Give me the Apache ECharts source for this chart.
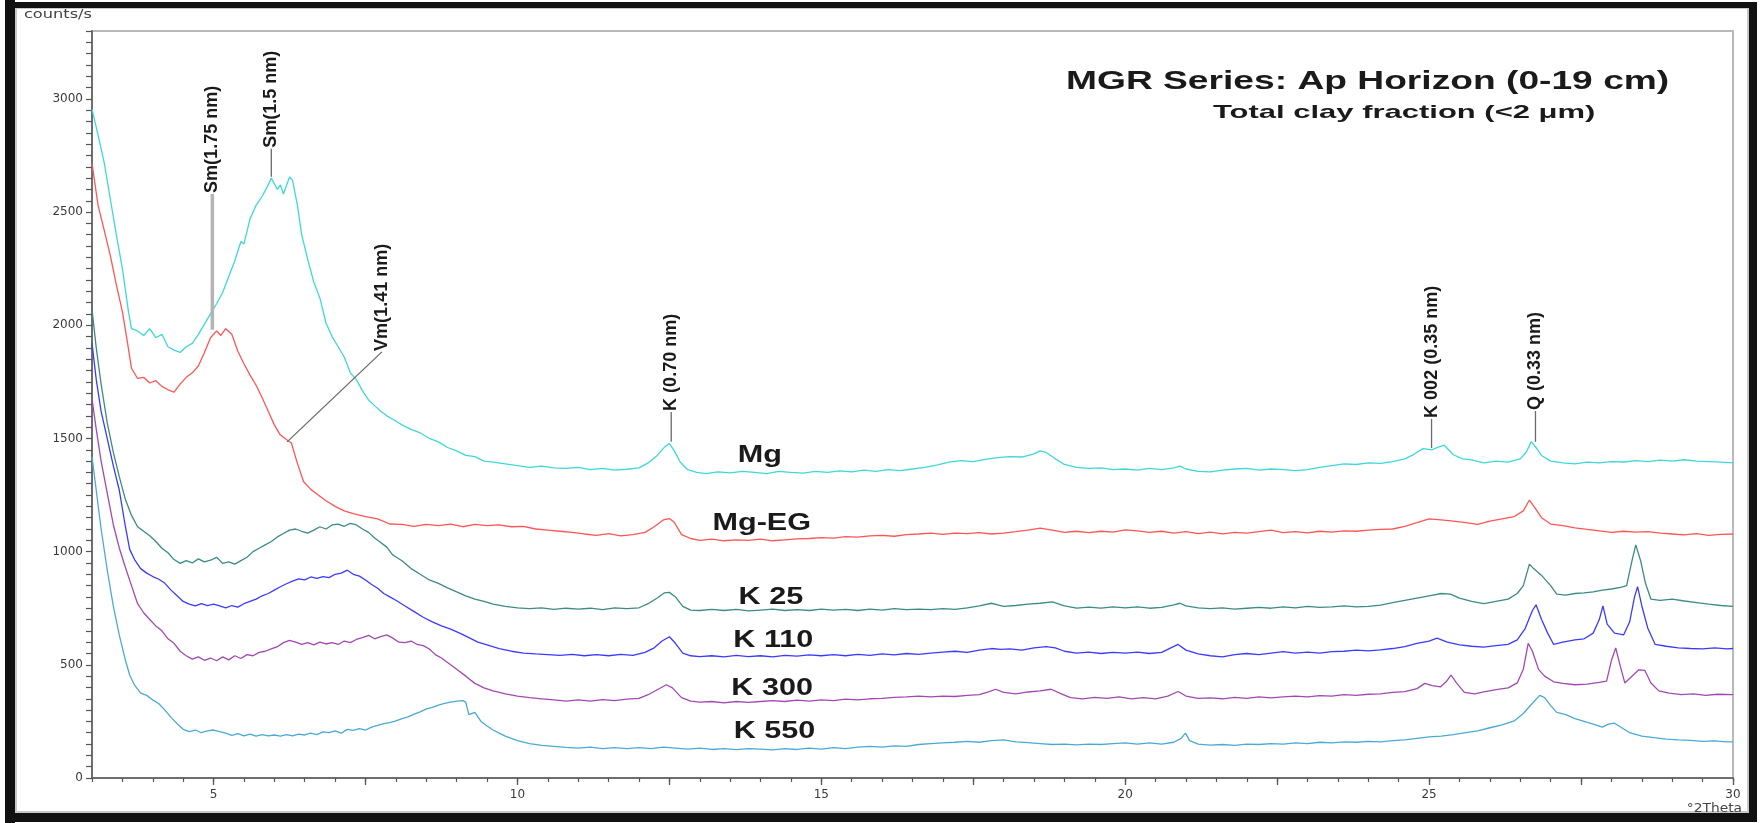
<!DOCTYPE html>
<html><head><meta charset="utf-8">
<script src="https://cdn.jsdelivr.net/npm/echarts@6/dist/echarts.min.js"></script>
<style>html,body{margin:0;padding:0;background:#fff}#c{width:1763px;height:823px}</style>
</head><body><div id="c"></div>
<script>
// ---- data (°2Theta, counts/s) ----
const seriesNames = ['Mg', 'Mg-EG', 'K 25', 'K 110', 'K 300', 'K 550'];
const seriesColors = ['#3ed8d8', '#ff5555', '#3a8c84', '#3b3bff', '#a348b3', '#4aaad6'];

const mg = [[3.0,2955],[3.1,2840],[3.2,2720],[3.3,2560],[3.4,2400],[3.5,2250],[3.6,2060],[3.65,1985],[3.75,1975],[3.85,1955],[3.95,1985],[4.05,1945],[4.15,1960],[4.25,1905],[4.35,1890],[4.45,1880],[4.55,1905],[4.65,1920],[4.75,1960],[4.85,2005],[4.95,2050],[5.05,2095],[5.15,2145],[5.25,2215],[5.35,2285],[5.45,2370],[5.5,2360],[5.6,2470],[5.7,2530],[5.8,2570],[5.9,2620],[5.95,2650],[6.05,2600],[6.1,2620],[6.15,2580],[6.25,2655],[6.3,2640],[6.38,2530],[6.45,2400],[6.55,2290],[6.65,2190],[6.75,2120],[6.85,2010],[6.95,1950],[7.05,1905],[7.15,1860],[7.25,1790],[7.35,1760],[7.45,1710],[7.55,1670],[7.65,1645],[7.75,1620],[7.85,1600],[7.95,1585],[8.1,1560],[8.25,1540],[8.4,1525],[8.55,1500],[8.7,1485],[8.85,1460],[9.0,1445],[9.15,1425],[9.3,1420],[9.45,1400],[9.6,1395],[9.8,1388],[10.0,1380],[10.2,1372],[10.4,1378],[10.6,1370],[10.8,1368],[11.0,1372],[11.2,1362],[11.4,1368],[11.6,1360],[11.8,1364],[12.0,1370],[12.15,1392],[12.3,1425],[12.42,1462],[12.5,1478],[12.58,1445],[12.68,1395],[12.8,1362],[12.95,1350],[13.1,1345],[13.3,1352],[13.5,1348],[13.7,1355],[13.9,1350],[14.1,1345],[14.3,1355],[14.5,1350],[14.7,1347],[14.9,1355],[15.1,1350],[15.3,1357],[15.5,1352],[15.7,1360],[15.9,1355],[16.1,1362],[16.3,1358],[16.5,1365],[16.7,1372],[16.9,1382],[17.1,1395],[17.3,1402],[17.5,1398],[17.7,1408],[17.9,1415],[18.1,1420],[18.3,1418],[18.5,1432],[18.6,1445],[18.7,1438],[18.85,1410],[19.0,1385],[19.2,1372],[19.4,1368],[19.6,1370],[19.8,1362],[20.0,1365],[20.2,1360],[20.4,1368],[20.6,1362],[20.8,1370],[20.9,1378],[21.0,1365],[21.2,1355],[21.4,1352],[21.6,1360],[21.8,1365],[22.0,1368],[22.2,1360],[22.4,1365],[22.6,1362],[22.8,1358],[23.0,1362],[23.2,1372],[23.4,1380],[23.6,1388],[23.8,1385],[24.0,1392],[24.2,1390],[24.4,1398],[24.6,1410],[24.75,1430],[24.9,1455],[25.05,1450],[25.15,1462],[25.25,1470],[25.4,1428],[25.55,1410],[25.7,1405],[25.9,1392],[26.1,1400],[26.3,1395],[26.5,1410],[26.6,1440],[26.68,1486],[26.76,1460],[26.85,1425],[27.0,1400],[27.2,1392],[27.4,1388],[27.6,1395],[27.8,1392],[28.0,1398],[28.2,1396],[28.4,1402],[28.6,1398],[28.8,1404],[29.0,1400],[29.2,1406],[29.4,1400],[29.6,1398],[29.8,1395],[30.0,1392]];

const mgEg = [[3.0,2715],[3.1,2530],[3.2,2420],[3.3,2310],[3.4,2180],[3.5,2060],[3.58,1930],[3.65,1810],[3.75,1765],[3.85,1770],[3.95,1745],[4.05,1755],[4.15,1730],[4.25,1715],[4.35,1705],[4.45,1740],[4.55,1770],[4.65,1790],[4.75,1820],[4.85,1880],[4.95,1945],[5.05,1975],[5.12,1955],[5.2,1985],[5.3,1960],[5.4,1885],[5.5,1830],[5.6,1780],[5.7,1735],[5.8,1680],[5.9,1620],[6.0,1560],[6.1,1515],[6.2,1495],[6.28,1480],[6.38,1390],[6.48,1310],[6.6,1275],[6.7,1255],[6.85,1225],[7.0,1200],[7.15,1180],[7.3,1168],[7.5,1155],[7.7,1145],[7.9,1122],[8.1,1120],[8.3,1112],[8.5,1120],[8.7,1115],[8.9,1122],[9.1,1110],[9.3,1120],[9.5,1115],[9.7,1118],[9.9,1110],[10.1,1112],[10.3,1100],[10.5,1095],[10.7,1090],[10.9,1085],[11.1,1078],[11.3,1072],[11.5,1080],[11.7,1070],[11.9,1075],[12.1,1085],[12.25,1110],[12.4,1140],[12.5,1146],[12.58,1130],[12.7,1075],[12.85,1058],[13.0,1050],[13.2,1055],[13.4,1048],[13.6,1052],[13.8,1050],[14.0,1055],[14.2,1048],[14.4,1052],[14.6,1056],[14.8,1058],[15.0,1062],[15.2,1060],[15.4,1066],[15.6,1064],[15.8,1070],[16.0,1072],[16.2,1068],[16.4,1075],[16.6,1078],[16.8,1082],[17.0,1076],[17.2,1082],[17.4,1080],[17.6,1084],[17.8,1078],[18.0,1082],[18.2,1088],[18.4,1095],[18.6,1104],[18.8,1095],[19.0,1085],[19.2,1090],[19.4,1084],[19.6,1090],[19.8,1086],[20.0,1096],[20.2,1092],[20.4,1085],[20.6,1090],[20.8,1082],[21.0,1088],[21.2,1080],[21.4,1086],[21.6,1078],[21.8,1085],[22.0,1082],[22.2,1088],[22.4,1095],[22.6,1084],[22.8,1088],[23.0,1083],[23.2,1090],[23.4,1086],[23.6,1092],[23.8,1090],[24.0,1095],[24.2,1098],[24.4,1100],[24.6,1112],[24.8,1128],[25.0,1145],[25.2,1140],[25.4,1135],[25.6,1128],[25.8,1120],[26.0,1135],[26.2,1145],[26.4,1155],[26.55,1180],[26.65,1228],[26.75,1190],[26.85,1150],[27.0,1122],[27.2,1115],[27.4,1105],[27.6,1098],[27.8,1092],[28.0,1085],[28.2,1090],[28.4,1086],[28.6,1088],[28.8,1082],[29.0,1078],[29.2,1074],[29.4,1080],[29.6,1072],[29.8,1076],[30.0,1078]];

const k25 = [[3.0,2070],[3.07,1900],[3.15,1740],[3.25,1570],[3.35,1440],[3.45,1330],[3.55,1230],[3.65,1160],[3.75,1110],[3.85,1090],[3.95,1070],[4.05,1045],[4.15,1015],[4.25,995],[4.35,965],[4.45,948],[4.55,960],[4.65,950],[4.75,968],[4.85,955],[4.95,962],[5.05,975],[5.15,948],[5.25,955],[5.35,945],[5.45,960],[5.55,975],[5.65,1000],[5.75,1015],[5.85,1030],[5.95,1045],[6.05,1065],[6.15,1080],[6.25,1095],[6.35,1100],[6.45,1090],[6.55,1082],[6.65,1095],[6.75,1110],[6.85,1100],[6.95,1118],[7.05,1122],[7.15,1112],[7.25,1125],[7.35,1118],[7.45,1100],[7.55,1085],[7.65,1060],[7.75,1040],[7.85,1020],[7.95,985],[8.1,960],[8.25,925],[8.4,900],[8.55,875],[8.7,860],[8.85,840],[9.0,822],[9.15,805],[9.3,790],[9.45,780],[9.6,768],[9.8,758],[10.0,752],[10.2,748],[10.4,752],[10.6,745],[10.8,750],[11.0,746],[11.2,750],[11.4,744],[11.6,752],[11.8,748],[12.0,752],[12.15,770],[12.3,795],[12.42,818],[12.5,820],[12.6,800],[12.72,758],[12.85,742],[13.0,740],[13.2,745],[13.4,740],[13.6,745],[13.8,738],[14.0,742],[14.2,746],[14.4,740],[14.6,744],[14.8,740],[15.0,746],[15.2,742],[15.4,745],[15.6,740],[15.8,746],[16.0,742],[16.2,748],[16.4,744],[16.6,746],[16.8,744],[17.0,748],[17.2,745],[17.4,752],[17.6,760],[17.8,772],[17.9,765],[18.0,758],[18.2,762],[18.4,768],[18.6,772],[18.8,778],[19.0,760],[19.2,750],[19.4,755],[19.6,750],[19.8,756],[20.0,752],[20.2,756],[20.4,750],[20.6,754],[20.8,765],[20.9,772],[21.0,760],[21.2,752],[21.4,748],[21.6,752],[21.8,746],[22.0,750],[22.2,754],[22.4,750],[22.6,756],[22.8,752],[23.0,758],[23.2,754],[23.4,756],[23.6,760],[23.8,756],[24.0,758],[24.2,764],[24.4,775],[24.6,785],[24.8,795],[25.0,805],[25.2,815],[25.35,812],[25.5,795],[25.7,780],[25.9,770],[26.1,780],[26.3,790],[26.45,815],[26.55,850],[26.65,945],[26.72,925],[26.85,895],[27.0,850],[27.1,812],[27.25,808],[27.4,815],[27.55,818],[27.7,822],[27.85,830],[28.0,835],[28.15,842],[28.25,850],[28.33,950],[28.4,1030],[28.48,960],[28.56,860],[28.65,790],[28.8,785],[29.0,790],[29.2,782],[29.4,775],[29.6,768],[29.8,762],[30.0,758]];

const k110 = [[3.0,1920],[3.07,1760],[3.15,1620],[3.25,1500],[3.35,1380],[3.45,1270],[3.55,1110],[3.62,1010],[3.7,965],[3.8,925],[3.9,905],[4.0,890],[4.1,878],[4.2,860],[4.3,830],[4.4,805],[4.5,780],[4.6,768],[4.7,760],[4.8,770],[4.9,762],[5.0,768],[5.1,760],[5.2,752],[5.3,762],[5.4,755],[5.5,770],[5.6,780],[5.7,790],[5.8,805],[5.9,815],[6.0,830],[6.1,845],[6.2,858],[6.3,870],[6.4,880],[6.5,875],[6.6,888],[6.7,882],[6.8,890],[6.9,885],[7.0,900],[7.1,905],[7.2,918],[7.3,900],[7.4,892],[7.5,875],[7.6,855],[7.7,838],[7.8,815],[7.9,800],[8.0,785],[8.15,760],[8.3,735],[8.45,710],[8.6,690],[8.75,672],[8.9,658],[9.05,640],[9.2,620],[9.35,600],[9.5,588],[9.7,572],[9.9,560],[10.1,552],[10.3,548],[10.5,545],[10.7,542],[10.9,546],[11.1,540],[11.3,545],[11.5,540],[11.7,546],[11.9,542],[12.1,555],[12.25,575],[12.38,605],[12.5,624],[12.6,595],[12.72,552],[12.85,540],[13.0,536],[13.2,540],[13.4,535],[13.6,542],[13.8,536],[14.0,540],[14.2,535],[14.4,542],[14.6,538],[14.8,544],[15.0,540],[15.2,545],[15.4,540],[15.6,546],[15.8,542],[16.0,548],[16.2,544],[16.4,550],[16.6,546],[16.8,552],[17.0,556],[17.2,560],[17.4,555],[17.6,565],[17.8,572],[17.95,568],[18.1,570],[18.3,565],[18.5,575],[18.7,580],[18.85,575],[19.0,560],[19.2,552],[19.4,556],[19.6,550],[19.8,555],[20.0,552],[20.2,556],[20.4,550],[20.6,555],[20.75,575],[20.87,590],[21.0,565],[21.2,548],[21.4,540],[21.6,535],[21.8,545],[22.0,550],[22.2,545],[22.4,552],[22.6,558],[22.8,552],[23.0,556],[23.2,552],[23.4,558],[23.6,560],[23.8,565],[24.0,562],[24.2,566],[24.4,572],[24.6,580],[24.8,595],[25.0,605],[25.13,618],[25.3,600],[25.5,588],[25.7,582],[25.9,578],[26.1,585],[26.3,590],[26.45,610],[26.58,660],[26.7,740],[26.76,765],[26.85,700],[26.95,640],[27.05,590],[27.2,600],[27.4,610],[27.55,615],[27.7,640],[27.8,700],[27.86,760],[27.93,680],[28.05,640],[28.2,632],[28.3,690],[28.38,800],[28.43,845],[28.5,760],[28.6,660],[28.72,590],[28.9,582],[29.1,575],[29.3,572],[29.5,570],[29.7,575],[29.9,570],[30.0,572]];

const k300 = [[3.0,1675],[3.07,1540],[3.15,1400],[3.25,1260],[3.35,1120],[3.45,1015],[3.55,930],[3.65,850],[3.75,770],[3.85,730],[3.95,700],[4.05,672],[4.15,650],[4.25,615],[4.35,595],[4.45,560],[4.55,540],[4.65,525],[4.75,535],[4.85,520],[4.95,530],[5.05,518],[5.15,535],[5.25,522],[5.35,540],[5.45,528],[5.55,545],[5.65,540],[5.75,555],[5.85,560],[5.95,570],[6.05,580],[6.15,598],[6.25,608],[6.35,600],[6.45,590],[6.55,598],[6.65,588],[6.75,600],[6.85,592],[6.95,598],[7.05,590],[7.15,605],[7.25,598],[7.35,612],[7.45,620],[7.55,630],[7.65,615],[7.75,625],[7.85,632],[7.95,618],[8.05,600],[8.15,598],[8.25,605],[8.35,590],[8.45,585],[8.55,570],[8.65,545],[8.75,530],[8.85,510],[9.0,480],[9.15,450],[9.3,418],[9.45,398],[9.6,385],[9.8,372],[10.0,362],[10.2,355],[10.4,350],[10.6,345],[10.8,340],[11.0,345],[11.2,340],[11.4,346],[11.6,342],[11.8,348],[12.0,352],[12.15,368],[12.3,390],[12.45,412],[12.55,398],[12.7,355],[12.85,340],[13.0,335],[13.2,338],[13.4,332],[13.6,338],[13.8,334],[14.0,338],[14.2,342],[14.4,338],[14.6,344],[14.8,340],[15.0,345],[15.2,342],[15.4,348],[15.6,345],[15.8,350],[16.0,352],[16.2,356],[16.4,358],[16.6,362],[16.8,358],[17.0,362],[17.2,360],[17.4,365],[17.6,368],[17.75,380],[17.87,392],[18.0,378],[18.2,372],[18.4,380],[18.6,385],[18.78,392],[18.95,372],[19.1,355],[19.3,350],[19.5,356],[19.7,352],[19.9,358],[20.1,350],[20.3,355],[20.5,350],[20.7,362],[20.87,382],[21.0,362],[21.2,352],[21.4,354],[21.6,350],[21.8,356],[22.0,352],[22.2,358],[22.4,354],[22.6,358],[22.8,362],[23.0,358],[23.2,364],[23.4,362],[23.6,368],[23.8,365],[24.0,370],[24.2,372],[24.4,378],[24.6,382],[24.8,395],[24.93,418],[25.05,408],[25.19,403],[25.28,425],[25.36,455],[25.45,420],[25.58,378],[25.75,372],[25.9,380],[26.1,390],[26.3,398],[26.45,420],[26.55,480],[26.63,595],[26.7,560],[26.8,480],[26.9,450],[27.05,425],[27.2,418],[27.4,412],[27.6,415],[27.8,422],[27.92,428],[28.0,520],[28.07,575],[28.14,500],[28.22,420],[28.32,445],[28.45,478],[28.55,475],[28.65,420],[28.78,385],[28.95,375],[29.15,368],[29.35,372],[29.55,365],[29.75,370],[30.0,368]];

const k550 = [[3.0,1420],[3.07,1270],[3.15,1100],[3.25,920],[3.35,760],[3.45,630],[3.55,520],[3.62,455],[3.7,410],[3.8,375],[3.9,365],[4.0,345],[4.1,328],[4.2,300],[4.3,268],[4.4,240],[4.5,215],[4.6,205],[4.7,212],[4.8,200],[4.9,208],[5.0,212],[5.1,205],[5.2,198],[5.3,188],[5.4,196],[5.5,186],[5.6,194],[5.7,185],[5.8,192],[5.9,186],[6.0,190],[6.1,185],[6.2,192],[6.3,186],[6.4,194],[6.5,190],[6.6,198],[6.7,192],[6.8,204],[6.9,200],[7.0,208],[7.1,198],[7.2,215],[7.3,210],[7.4,218],[7.5,212],[7.6,225],[7.7,232],[7.8,240],[7.9,245],[8.0,252],[8.1,262],[8.2,270],[8.3,282],[8.4,292],[8.5,305],[8.6,312],[8.7,322],[8.8,330],[8.9,335],[9.0,340],[9.1,342],[9.15,335],[9.2,280],[9.3,290],[9.4,250],[9.5,230],[9.6,212],[9.7,198],[9.8,185],[9.9,175],[10.0,165],[10.2,152],[10.4,144],[10.6,140],[10.8,135],[11.0,132],[11.2,136],[11.4,130],[11.6,134],[11.8,130],[12.0,134],[12.2,130],[12.4,136],[12.6,132],[12.8,128],[13.0,132],[13.2,126],[13.4,130],[13.6,125],[13.8,130],[14.0,128],[14.2,124],[14.4,130],[14.6,126],[14.8,132],[15.0,128],[15.2,134],[15.4,130],[15.6,136],[15.8,140],[16.0,136],[16.2,142],[16.4,140],[16.6,148],[16.8,152],[17.0,155],[17.2,158],[17.4,162],[17.6,158],[17.8,165],[18.0,168],[18.2,160],[18.4,156],[18.6,152],[18.8,148],[19.0,150],[19.2,146],[19.4,150],[19.6,148],[19.8,152],[20.0,155],[20.2,150],[20.4,155],[20.6,150],[20.8,158],[20.92,175],[20.99,198],[21.06,165],[21.2,150],[21.4,145],[21.6,148],[21.8,144],[22.0,150],[22.2,148],[22.4,152],[22.6,150],[22.8,155],[23.0,152],[23.2,158],[23.4,155],[23.6,160],[23.8,158],[24.0,162],[24.2,160],[24.4,165],[24.6,168],[24.8,175],[25.0,182],[25.2,185],[25.4,192],[25.6,200],[25.8,208],[26.0,222],[26.2,235],[26.4,252],[26.55,285],[26.7,330],[26.82,365],[26.9,355],[27.0,320],[27.1,290],[27.25,280],[27.4,262],[27.55,250],[27.7,238],[27.85,225],[27.95,238],[28.05,242],[28.15,225],[28.3,200],[28.5,185],[28.7,178],[28.9,172],[29.1,168],[29.3,166],[29.5,162],[29.7,164],[29.9,160],[30.0,160]];

const seriesData = [mg, mgEg, k25, k110, k300, k550];

// series name labels placed beside the curves (°2Theta, counts/s)
const nameLabelTheta = [13.99, 14.02, 14.17, 14.21, 14.19, 14.23];
const nameLabelCounts = [1423, 1125, 798, 605, 395, 205];

// peak annotations
const peakLabels = ['Sm(1.75 nm)', 'Sm(1.5 nm)', 'Vm(1.41 nm)', 'K (0.70 nm)', 'K 002 (0.35 nm)', 'Q (0.33 nm)'];
const peakLabelTheta = [4.98, 5.95, 7.77, 12.53, 25.04, 26.75];   // where the label sits
const peakLabelBase = [2576, 2775, 1878, 1613, 1582, 1617];        // counts at label start
const peakTheta = [4.98, 5.95, 6.21, 12.53, 25.04, 26.75];        // leader line foot
const peakCounts = [1980, 2656, 1485, 1485, 1458, 1485];

// axis ticks / labels
const xTickLabels = [5, 10, 15, 20, 25, 30];
const xMajorTicks = [5, 7.5, 10, 12.5, 15, 17.5, 20, 22.5, 25, 27.5, 30];
const yTickLabels = [0, 500, 1000, 1500, 2000, 2500, 3000];
const xMinorTicks = []; for (let v = 3; v <= 30.001; v += 0.5) xMinorTicks.push(+v.toFixed(1));
const yMinorTicks = []; for (let v = 0; v <= 3300; v += 50) yMinorTicks.push(v);

const chart = echarts.init(document.getElementById('c'), null, {renderer: 'canvas'});
const axisColor = '#6e6e6e';
const tickFont = {fontSize: 12, fontFamily: 'DejaVu Sans', color: '#3a3a3a'};

chart.setOption({
  animation: false,
  backgroundColor: '#ffffff',
  grid: {left: 92, right: 30, top: 31, bottom: 45, show: true, borderColor: '#b9b9b9', borderWidth: 2, backgroundColor: 'transparent'},
  xAxis: [
    {type: 'value', min: 3, max: 30, position: 'bottom',
     axisLine: {lineStyle: {color: axisColor, width: 2}},
     axisTick: {customValues: xMajorTicks, length: 7, lineStyle: {color: '#555', width: 1.3}},
     axisLabel: Object.assign({customValues: xTickLabels, margin: 11, formatter: v => String(v)}, tickFont),
     splitLine: {show: false}},
    {type: 'value', min: 3, max: 30, position: 'bottom',
     axisLine: {show: false},
     axisTick: {customValues: xMinorTicks, length: 4, lineStyle: {color: '#555', width: 1.2}},
     axisLabel: {show: false}, splitLine: {show: false}}
  ],
  yAxis: [{type: 'value', min: 0, max: 3300,
    axisLine: {show: true, lineStyle: {color: axisColor, width: 2}},
    axisTick: {show: true, customValues: yMinorTicks, length: 6, lineStyle: {color: '#555', width: 1.2}},
    axisLabel: Object.assign({customValues: yTickLabels, margin: 9, formatter: v => String(v)}, tickFont),
    splitLine: {show: false}}],
  series: seriesData.map((d, i) => ({
    name: seriesNames[i], type: 'line', data: d, showSymbol: false, symbol: 'none',
    lineStyle: {color: seriesColors[i], width: 1.3}, itemStyle: {color: seriesColors[i]},
    xAxisIndex: 0, yAxisIndex: 0, silent: true, z: 3
  }))
});

const px = (x, y) => chart.convertToPixel({gridIndex: 0}, [x, y]);
const graphics = [
  // outer frame
  {type: 'rect', shape: {x: 16, y: 8, width: 1732, height: 804}, style: {fill: 'none', stroke: '#c8c8c8', lineWidth: 2}, silent: true},
  {type: 'rect', shape: {x: 5, y: 0, width: 10, height: 823}, style: {fill: '#111'}, silent: true},
  {type: 'rect', shape: {x: 5, y: 2, width: 1752, height: 6}, style: {fill: '#111'}, silent: true},
  {type: 'rect', shape: {x: 5, y: 813, width: 1752, height: 9}, style: {fill: '#111'}, silent: true},
  {type: 'rect', shape: {x: 1749, y: 2, width: 8, height: 820}, style: {fill: '#111'}, silent: true},
  // titles and axis names
  {type: 'text', x: 1066, y: 82, scaleX: 1.43, style: {text: 'MGR Series: Ap Horizon (0-19 cm)', fontSize: 26, fontWeight: 'bold', fontFamily: 'Liberation Sans', fill: '#1a1a1a', align: 'left', verticalAlign: 'middle'}, z: 10},
  {type: 'text', x: 1213, y: 113, scaleX: 1.63, style: {text: 'Total clay fraction (<2 μm)', fontSize: 19, fontWeight: 'bold', fontFamily: 'Liberation Sans', fill: '#1a1a1a', align: 'left', verticalAlign: 'middle'}, z: 10},
  {type: 'text', x: 92, y: 15, scaleX: 1.35, style: {text: 'counts/s', fontSize: 12, fontFamily: 'DejaVu Sans', fill: '#444', align: 'right', verticalAlign: 'middle'}, z: 10},
  {type: 'text', x: 1742, y: 809, scaleX: 1.15, style: {text: '°2Theta', fontSize: 12, fontFamily: 'DejaVu Sans', fill: '#444', align: 'right', verticalAlign: 'middle'}, z: 10}
];

// series name labels
seriesNames.forEach((n, i) => {
  const p = px(nameLabelTheta[i], nameLabelCounts[i]);
  graphics.push({type: 'text', x: p[0], y: p[1], scaleX: 1.33,
    style: {text: n, fontSize: 23, fontWeight: 'bold', fontFamily: 'Liberation Sans', fill: '#1a1a1a', align: 'center', verticalAlign: 'middle'}, z: 10});
});

// peak annotations
peakLabels.forEach((t, i) => {
  const foot = px(peakTheta[i], peakCounts[i]);
  const base = px(peakLabelTheta[i], peakLabelBase[i]);
  const thick = i === 0;
  graphics.push({type: 'line', shape: {x1: foot[0], y1: foot[1], x2: base[0], y2: base[1] - 1},
    style: {stroke: thick ? '#b4b4b4' : '#6a6a6a', lineWidth: thick ? 3.5 : 1.3}, z: 9, silent: true});
  graphics.push({type: 'text', x: base[0], y: base[1] - 2, rotation: Math.PI / 2,
    style: {text: t, fontSize: 18, fontWeight: 'bold', fontFamily: 'Liberation Sans', fill: '#1a1a1a', align: 'left', verticalAlign: 'middle'}, z: 10});
});

chart.setOption({graphic: graphics});
</script>
</body></html>
